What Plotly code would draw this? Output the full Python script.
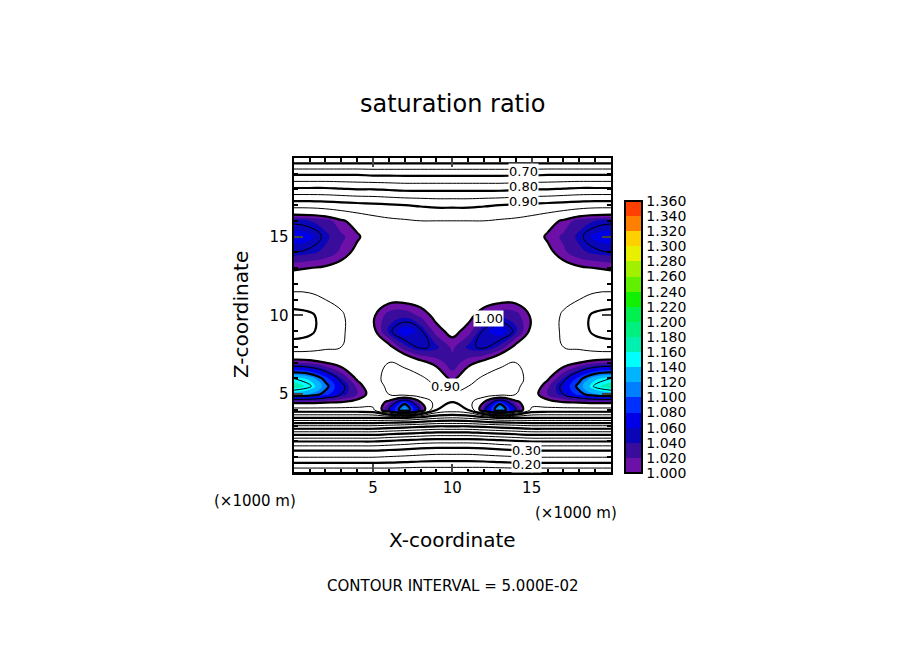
import plotly.graph_objects as go

# grid: x (km) 0..10 stored, mirrored to 20; z (km) rows
x_half = [0, 1, 2, 3, 4, 5, 6, 7, 8, 9, 10]
z_rows = [0, 0.5, 1, 1.5, 2, 2.5, 3, 3.5, 4, 4.5, 5, 5.5, 6, 7, 8, 9, 10, 11, 12, 13, 14, 15, 16, 17, 18, 19, 19.5, 20]
ratio_half = [
    [0.10, 0.10, 0.10, 0.10, 0.10, 0.10, 0.10, 0.10, 0.10, 0.10, 0.10],
    [0.18, 0.18, 0.18, 0.18, 0.18, 0.18, 0.18, 0.175, 0.17, 0.17, 0.17],
    [0.25, 0.25, 0.25, 0.25, 0.25, 0.25, 0.245, 0.24, 0.235, 0.23, 0.23],
    [0.31, 0.31, 0.31, 0.31, 0.31, 0.31, 0.305, 0.30, 0.29, 0.285, 0.285],
    [0.40, 0.40, 0.40, 0.40, 0.40, 0.40, 0.39, 0.38, 0.37, 0.365, 0.365],
    [0.52, 0.52, 0.52, 0.52, 0.52, 0.52, 0.51, 0.50, 0.49, 0.48, 0.48],
    [0.65, 0.65, 0.65, 0.65, 0.65, 0.65, 0.64, 0.63, 0.62, 0.61, 0.61],
    [0.80, 0.80, 0.80, 0.80, 0.80, 0.80, 0.80, 0.80, 0.78, 0.76, 0.75],
    [0.93, 0.93, 0.93, 0.93, 0.93, 0.94, 1.05, 1.13, 1.04, 0.90, 0.88],
    [1.01, 1.01, 1.005, 1.0, 0.99, 0.97, 1.01, 1.09, 1.00, 0.93, 0.90],
    [1.13, 1.12, 1.09, 1.05, 1.02, 0.985, 0.95, 0.93, 0.92, 0.93, 0.94],
    [1.17, 1.155, 1.11, 1.06, 1.015, 0.975, 0.94, 0.93, 0.93, 0.95, 0.98],
    [1.15, 1.135, 1.09, 1.04, 0.995, 0.96, 0.94, 0.93, 0.94, 0.97, 1.01],
    [1.02, 1.015, 1.0, 0.985, 0.965, 0.955, 0.95, 0.96, 0.99, 1.01, 1.03],
    [0.92, 0.925, 0.94, 0.95, 0.96, 0.97, 0.99, 1.035, 1.055, 1.045, 1.015],
    [0.88, 0.89, 0.92, 0.945, 0.965, 0.99, 1.045, 1.07, 1.055, 1.01, 0.99],
    [0.88, 0.89, 0.92, 0.945, 0.97, 0.995, 1.03, 1.035, 1.015, 0.99, 0.975],
    [0.93, 0.935, 0.95, 0.96, 0.97, 0.98, 0.99, 0.99, 0.985, 0.98, 0.975],
    [0.97, 0.97, 0.97, 0.975, 0.975, 0.975, 0.975, 0.975, 0.975, 0.975, 0.975],
    [1.005, 1.00, 0.995, 0.985, 0.98, 0.975, 0.975, 0.975, 0.975, 0.975, 0.975],
    [1.05, 1.045, 1.035, 1.015, 0.99, 0.98, 0.975, 0.97, 0.97, 0.97, 0.97],
    [1.07, 1.065, 1.045, 1.025, 1.005, 0.98, 0.97, 0.965, 0.96, 0.96, 0.96],
    [1.045, 1.04, 1.03, 1.005, 0.985, 0.97, 0.96, 0.955, 0.95, 0.95, 0.95],
    [0.93, 0.93, 0.925, 0.92, 0.915, 0.91, 0.905, 0.90, 0.895, 0.89, 0.89],
    [0.81, 0.81, 0.81, 0.805, 0.80, 0.80, 0.795, 0.79, 0.79, 0.79, 0.79],
    [0.69, 0.69, 0.69, 0.69, 0.69, 0.685, 0.685, 0.685, 0.685, 0.685, 0.685],
    [0.62, 0.62, 0.62, 0.62, 0.62, 0.62, 0.62, 0.62, 0.62, 0.62, 0.62],
    [0.55, 0.55, 0.55, 0.55, 0.55, 0.55, 0.55, 0.55, 0.55, 0.55, 0.55],
]
band_colors = ['#6c10a8', '#3a0c9c', '#0a06b8', '#0000e8', '#0030ff', '#0080ff',
               '#00b4ff', '#00ffff', '#00f0b0', '#00f080', '#00f050', '#10f000',
               '#60f000', '#a0f000', '#e8f000', '#ffd000', '#ff8000', '#ff4000',
               '#ff0000', '#ff5050']
cbar_ticks = [1.00 + 0.02 * i for i in range(19)]

x_full = x_half + [20 - v for v in x_half[-2::-1]]
ratio = [row + row[-2::-1] for row in ratio_half]

# discrete colorscale: first band (0.98-1.00) white, then colour bands
n = 20
fill_scale = []
cols = ['#ffffff'] + band_colors[:19]
for i, c in enumerate(cols):
    fill_scale.append([i / n, c])
    fill_scale.append([(i + 1) / n, c])

bar_scale = []
for i, c in enumerate(band_colors[:18]):
    bar_scale.append([i / 18, c])
    bar_scale.append([(i + 1) / 18, c])

fig = go.Figure()
fig.add_trace(go.Contour(
    x=x_full, y=z_rows, z=ratio, colorscale=fill_scale, zmin=0.98, zmax=1.38,
    autocontour=False, contours=dict(start=1.0, end=1.36, size=0.02, coloring='fill'),
    line=dict(width=0, smoothing=1.3), showscale=False, hoverinfo='skip'))
fig.add_trace(go.Contour(
    x=x_full, y=z_rows, z=ratio, autocontour=False,
    contours=dict(start=0.05, end=1.35, size=0.05, coloring='none'),
    line=dict(color='black', width=1, smoothing=1.3), showscale=False, hoverinfo='skip'))
fig.add_trace(go.Contour(
    x=x_full, y=z_rows, z=ratio, autocontour=False,
    contours=dict(start=0.1, end=1.3, size=0.1, coloring='none'),
    line=dict(color='black', width=2.2, smoothing=1.3), showscale=False, hoverinfo='skip'))
fig.add_trace(go.Scatter(
    x=[None], y=[None], mode='markers', showlegend=False,
    marker=dict(color=[1.0], cmin=1.0, cmax=1.36, colorscale=bar_scale,
                colorbar=dict(x=0.683, xanchor='left', y=0.289, yanchor='bottom',
                              len=0.416, lenmode='fraction', thickness=17, xpad=0, ypad=0,
                              outlinecolor='black', outlinewidth=2,
                              tickvals=cbar_ticks, ticktext=['%.3f' % t for t in cbar_ticks],
                              ticks='', tickfont=dict(size=14, color='black')))))

labels = [('0.70', 14.5, 19.15), ('0.80', 14.5, 18.2), ('0.90', 14.5, 17.25),
          ('1.00', 12.3, 9.8), ('0.90', 9.6, 5.5), ('0.30', 14.7, 1.45), ('0.20', 14.7, 0.55)]
for t, lx, lz in labels:
    fig.add_annotation(x=lx, y=lz, text=t, showarrow=False, bgcolor='white',
                       font=dict(size=13, color='black'), borderpad=0)

texts = [
    ('saturation ratio', 0.492, 0.853, 24),
    ('(×1000 m)', 0.273, 0.246, 15),
    ('(×1000 m)', 0.628, 0.228, 15),
    ('X-coordinate', 0.492, 0.186, 20),
    ('CONTOUR INTERVAL = 5.000E-02', 0.492, 0.116, 15),
]
for t, px, py, s in texts:
    fig.add_annotation(x=px, y=py, xref='paper', yref='paper', text=t, showarrow=False,
                       xanchor='center', yanchor='middle', font=dict(size=s, color='black'))
fig.add_annotation(x=0.257, y=0.531, xref='paper', yref='paper', text='Z-coordinate',
                   xanchor='center', yanchor='middle',
                   textangle=-90, showarrow=False, font=dict(size=20, color='black'))

axis = dict(range=[0, 20], tickvals=[5, 10, 15], ticks='inside', ticklen=9, tickwidth=1.5,
            mirror='ticks', showline=True, linecolor='black', linewidth=2, showgrid=False,
            zeroline=False, tickfont=dict(size=15, color='black'), automargin=False,
            minor=dict(dtick=1, ticks='inside', ticklen=4, tickcolor='black'))
fig.update_layout(
    width=904, height=654, paper_bgcolor='white', plot_bgcolor='white',
    margin=dict(l=0, r=0, t=0, b=0, autoexpand=False), showlegend=False,
    font=dict(family='DejaVu Sans', color='black'),
    xaxis=dict(axis, domain=[0.316, 0.667]),
    yaxis=dict(axis, domain=[0.289, 0.771]),
)
fig.write_html("out.html")
